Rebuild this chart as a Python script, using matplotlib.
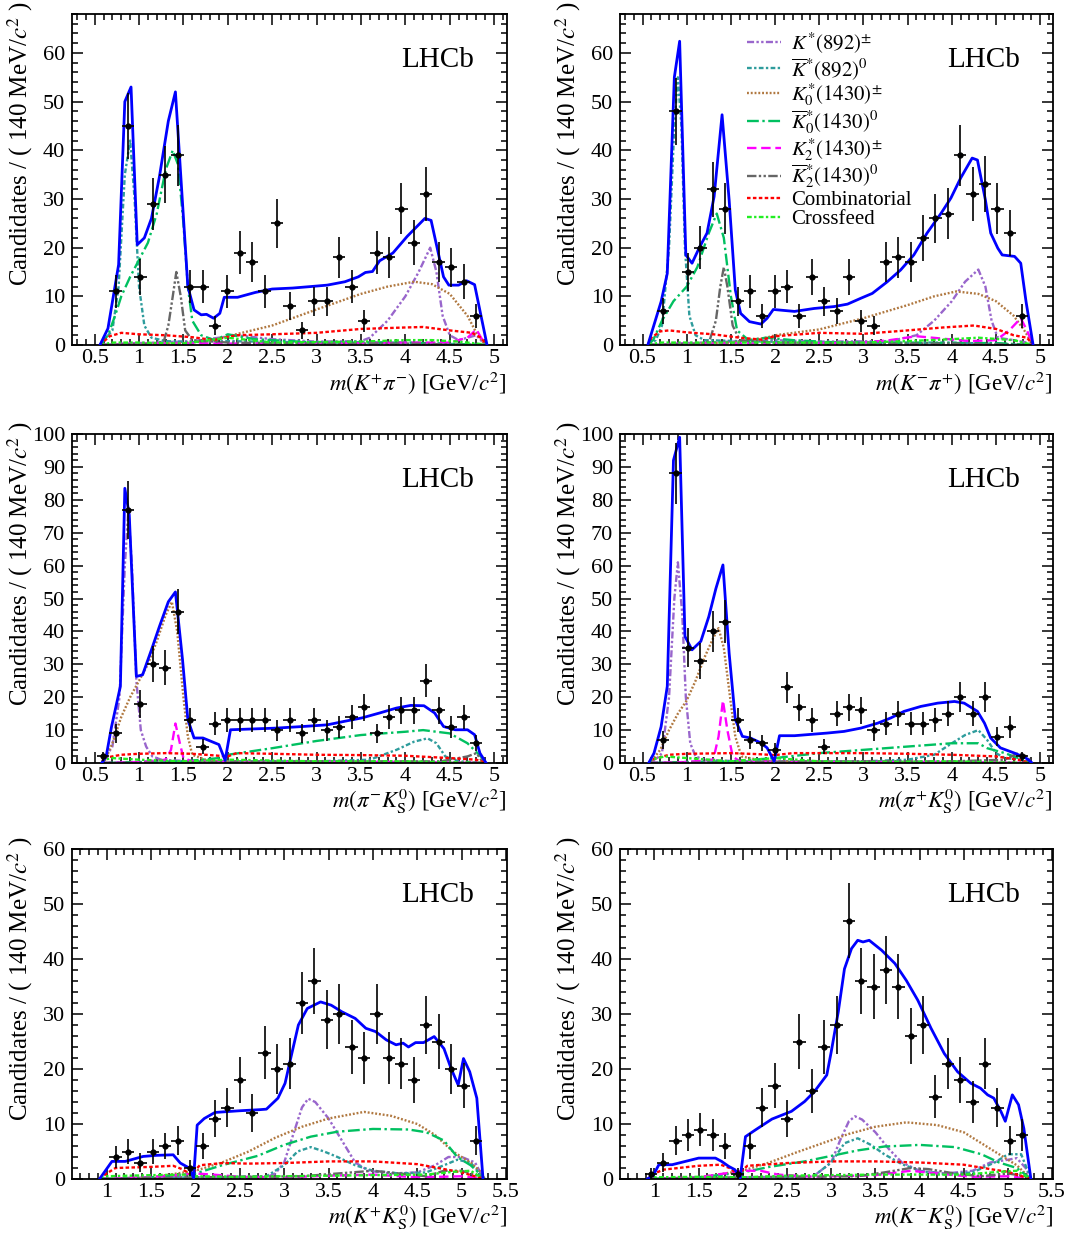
import numpy as np
import matplotlib
matplotlib.use("Agg")
from matplotlib import pyplot as plt
from matplotlib.ticker import MultipleLocator

plt.rcParams['font.family'] = ['Liberation Serif', 'DejaVu Serif']
plt.rcParams['mathtext.fontset'] = 'stix'

# bin centres (140 MeV bins)
centers_kpi = [0.595, 0.735, 0.875, 1.015, 1.155, 1.295, 1.435, 1.575, 1.715, 1.855, 1.995,
               2.135, 2.275, 2.415, 2.555, 2.695, 2.835, 2.975, 3.115, 3.255, 3.395, 3.535,
               3.675, 3.815, 3.955, 4.095, 4.235, 4.375, 4.515, 4.655, 4.795]
centers_kk = [0.96, 1.10, 1.24, 1.38, 1.52, 1.66, 1.80, 1.94, 2.08, 2.22, 2.36, 2.50, 2.64,
              2.78, 2.92, 3.06, 3.20, 3.34, 3.48, 3.62, 3.76, 3.90, 4.04, 4.18, 4.32, 4.46,
              4.60, 4.74, 4.88, 5.02, 5.16]

# ---- panel 1: K+ pi-
kpi_counts = [11, 45, 14, 29, 35, 39, 12, 12, 4, 11, 19, 17, 11, 25, 8, 3, 9, 9, 18, 12, 5,
              19, 18, 28, 21, 31, 17, 16, 13, 6]
kpi_fit_x = [0.56, 0.65, 0.77, 0.84, 0.91, 0.98, 1.06, 1.14, 1.23, 1.33, 1.41, 1.55, 1.62,
             1.70, 1.76, 1.84, 1.91, 1.96, 2.11, 2.31, 2.50, 2.73, 2.93, 3.12, 3.32, 3.47,
             3.55, 3.63, 3.71, 3.86, 4.02, 4.22, 4.29, 4.43, 4.49, 4.60, 4.69, 4.78, 4.92]
kpi_fit_y = [0, 3.4, 16.5, 50, 53, 20.6, 22, 26, 34.6, 46, 52, 12, 7.2, 6.2, 6.3, 5.5, 6.5,
             9.8, 9.8, 10.8, 11.5, 11.7, 12, 12.3, 13, 14, 14.9, 15.1, 17.3, 18.9, 22.3, 26,
             25.6, 14, 12.3, 12.3, 13.2, 12.4, 0]
kpi_parts = {
    'kst_pm': ([0.56, 0.8, 1.2, 1.6, 1.9, 2.1, 2.5, 3.0, 3.5, 3.6, 3.8, 4.0, 4.15, 4.28, 4.35, 4.42, 4.5, 4.6, 4.8, 4.9],
               [0, 0.3, 0.5, 0.8, 1.5, 2.0, 1.2, 0.7, 0.8, 1.5, 5, 10, 15, 20, 15, 6, 2, 1, 2, 0]),
    'kst_0': ([0.56, 0.7, 0.77, 0.84, 0.9, 0.95, 1.0, 1.06, 1.14, 1.3, 1.6, 2.0, 3.0, 4.0, 4.9],
              [0, 3, 12, 35, 42, 30, 12, 4, 1.5, 0.8, 0.6, 0.8, 0.5, 0.5, 0]),
    'k0_pm': ([0.56, 1.0, 1.5, 1.8, 2.0, 2.5, 3.0, 3.5, 3.8, 4.1, 4.3, 4.5, 4.7, 4.8, 4.9],
              [0, 0.2, 0.4, 0.8, 1.8, 4, 7.3, 10.5, 12, 13, 12.5, 10.5, 6, 2.5, 0]),
    'k0_0': ([0.56, 0.65, 0.73, 0.8, 0.9, 1.0, 1.1, 1.2, 1.3, 1.38, 1.44, 1.5, 1.55, 1.6, 1.7, 1.85, 2.0, 2.3, 3.0, 4.0, 4.9],
             [0, 2, 6, 10, 14, 17.5, 21, 27, 36, 40, 37, 25, 12, 5, 2, 1, 2.2, 1.2, 0.5, 0.5, 0]),
    'k2_pm': ([0.56, 1.0, 2.0, 3.0, 4.0, 4.5, 4.7, 4.8, 4.9],
              [0, 0.3, 0.3, 0.3, 0.5, 0.5, 1.5, 3.2, 0]),
    'k2_0': ([0.56, 1.2, 1.28, 1.33, 1.38, 1.42, 1.47, 1.52, 1.6, 2.0, 3.0, 4.0, 4.9],
             [0, 0.3, 0.8, 4, 10, 15, 10, 3, 1, 0.5, 0.3, 0.3, 0]),
    'comb': ([0.56, 0.62, 0.67, 0.8, 1.0, 1.3, 1.6, 1.85, 1.95, 2.1, 2.5, 3.0, 3.5, 4.0, 4.2, 4.5, 4.75, 4.85, 4.92],
             [0, 1, 1.8, 2.5, 2.2, 2.0, 1.6, 1.0, 1.5, 2.0, 2.2, 2.5, 3.3, 3.6, 3.7, 3.0, 2.5, 1.5, 0]),
    'xfeed': ([0.56, 0.7, 1.0, 1.5, 2.0, 2.5, 3.5, 4.0, 4.3, 4.6, 4.85, 4.92],
              [0, 0.5, 0.5, 0.3, 1.5, 0.5, 0.7, 1.0, 1.0, 0.7, 0.2, 0]),
}

# ---- panel 2: K- pi+
kmpi_counts = [7, 48, 15, 20, 32, 28, 9, 11, 6, 11, 12, 6, 14, 9, 7, 14, 5, 4, 17, 18, 17,
               22, 26, 27, 39, 31, 33, 28, 23, 6]
kmpi_fit_x = [0.56, 0.71, 0.78, 0.86, 0.92, 0.99, 1.06, 1.14, 1.23, 1.31, 1.40, 1.48, 1.55,
              1.61, 1.71, 1.84, 1.91, 1.98, 2.22, 2.44, 2.67, 2.82, 2.97, 3.10, 3.27, 3.42,
              3.57, 3.72, 3.88, 3.99, 4.10, 4.23, 4.29, 4.38, 4.44, 4.52, 4.57, 4.71, 4.78,
              4.84, 4.92]
kmpi_fit_y = [0, 8.9, 14.7, 55, 62.4, 18.5, 16.8, 19.9, 23, 30.5, 47.3, 29.8, 11.3, 6.5,
              4.8, 4.3, 5.5, 7.3, 6.9, 7.5, 7.9, 8.4, 9.6, 10.6, 13, 15.4, 18.5, 23, 27.1,
              30.2, 34.3, 38.4, 38, 29.8, 23, 19.9, 18.5, 18.2, 16.8, 8.9, 0]
kmpi_parts = {
    'kst_pm': ([0.56, 1.0, 2.0, 2.5, 3.3, 3.6, 3.8, 4.0, 4.15, 4.3, 4.38, 4.45, 4.52, 4.7, 4.85, 4.92],
               [0, 0.4, 1.0, 0.7, 0.8, 2, 5, 9, 13, 15.5, 12, 5, 1.5, 1, 0.5, 0]),
    'kst_0': ([0.56, 0.65, 0.72, 0.8, 0.86, 0.9, 0.94, 0.98, 1.03, 1.1, 1.2, 1.6, 2.5, 4.0, 4.92],
              [0, 1, 4, 20, 45, 55, 45, 20, 6, 2, 1, 0.8, 0.5, 0.5, 0]),
    'k0_pm': ([0.56, 1.0, 1.5, 1.9, 2.0, 2.5, 3.0, 3.5, 3.8, 4.05, 4.3, 4.5, 4.7, 4.82, 4.92],
              [0, 0.2, 0.5, 1.5, 2.0, 3.2, 5.5, 8.2, 10, 11, 10.5, 9, 6, 3, 0]),
    'k0_0': ([0.56, 0.62, 0.72, 0.85, 1.0, 1.12, 1.25, 1.34, 1.42, 1.5, 1.57, 1.7, 1.9, 2.2, 2.6, 3.5, 4.5, 4.92],
             [0, 1, 5, 9, 12, 16, 23, 27, 22, 10, 3, 1, 1.5, 1, 0.6, 0.4, 0.4, 0]),
    'k2_pm': ([0.56, 1.0, 2.0, 3.0, 3.3, 3.6, 3.9, 4.2, 4.5, 4.65, 4.78, 4.85, 4.92],
              [0, 0.3, 0.3, 0.5, 1.0, 1.8, 1.3, 0.8, 1.0, 3, 5.5, 3, 0]),
    'k2_0': ([0.56, 1.2, 1.26, 1.33, 1.38, 1.42, 1.46, 1.52, 1.6, 2.0, 3.0, 4.0, 4.92],
             [0, 0.3, 1, 5, 12, 16, 12, 4, 1, 0.5, 0.3, 0.3, 0]),
    'comb': ([0.56, 0.6, 0.7, 0.8, 1.0, 1.3, 1.6, 1.85, 2.0, 2.5, 3.0, 3.5, 3.9, 4.25, 4.5, 4.7, 4.85, 4.92],
             [0, 1.5, 2.8, 3.0, 2.6, 2.2, 1.5, 1.1, 1.8, 2.5, 2.3, 3.0, 3.6, 4.0, 3.3, 2.0, 1.5, 0]),
    'xfeed': ([0.56, 0.7, 1.0, 2.0, 3.0, 3.5, 4.0, 4.3, 4.7, 4.92],
              [0, 0.5, 0.5, 0.5, 0.5, 0.8, 1.2, 1.5, 1.0, 0]),
}

# ---- panel 3: pi- K0S
pimks_counts = [2, 9, 77, 18, 30, 29, 46, 13, 5, 12, 13, 13, 13, 13, 10, 13, 9, 13, 10, 11,
                14, 17, 9, 14, 16, 16, 25, 16, 11, 14, 6]
pimks_fit_x = [0.58, 0.63, 0.69, 0.79, 0.84, 0.89, 0.97, 1.04, 1.14, 1.23, 1.33, 1.41, 1.49,
               1.55, 1.62, 1.72, 1.90, 1.97, 2.03, 2.23, 2.54, 2.85, 3.12, 3.32, 3.51, 3.71,
               3.90, 4.06, 4.21, 4.33, 4.43, 4.56, 4.70, 4.78, 4.84, 4.91]
pimks_fit_y = [0, 2, 11, 23.3, 83.5, 75.4, 26.3, 26.8, 34.4, 41.5, 49, 52, 31.4, 13.2, 7.6,
               7.6, 5.6, 0.8, 10.1, 10.3, 10.6, 11.1, 11.6, 12.7, 13.7, 15.2, 16.7, 17.5,
               17.4, 15.2, 11.1, 10.1, 10.1, 8.6, 3, 0]
pimks_parts = {
    'kst_pm': ([0.58, 0.7, 0.78, 0.84, 0.88, 0.92, 0.97, 1.02, 1.08, 1.15, 1.25, 1.6, 2.0, 3.0, 4.0, 4.91],
               [0, 5, 20, 60, 77, 60, 25, 10, 5, 2, 1, 0.5, 0.5, 0.4, 0.4, 0]),
    'kst_0': ([0.58, 1.0, 2.0, 3.0, 3.6, 3.9, 4.1, 4.25, 4.35, 4.45, 4.6, 4.91],
              [0, 0.3, 0.5, 0.5, 1, 4, 6.5, 7.5, 6, 2, 0.5, 0]),
    'k0_pm': ([0.58, 0.62, 0.7, 0.8, 0.9, 1.0, 1.1, 1.2, 1.3, 1.37, 1.43, 1.5, 1.55, 1.6, 1.75, 1.9, 2.5, 4.0, 4.91],
              [0, 1, 6, 14, 20, 25, 30, 37, 45, 49, 40, 20, 8, 2.5, 1, 0.5, 0.3, 0.3, 0]),
    'k0_0': ([0.58, 1.0, 1.5, 1.9, 2.0, 2.5, 3.0, 3.5, 4.0, 4.2, 4.5, 4.7, 4.85, 4.91],
             [0, 0.3, 0.5, 1.5, 2.5, 4.5, 6.7, 8.5, 9.5, 10, 9, 6, 2, 0]),
    'k2_pm': ([0.58, 1.0, 1.3, 1.36, 1.41, 1.46, 1.5, 1.6, 2.0, 3.0, 4.0, 4.91],
              [0, 0.3, 1, 4, 12, 6, 1.5, 0.5, 0.3, 0.3, 0.3, 0]),
    'k2_0': ([0.58, 2.0, 3.0, 4.0, 4.4, 4.7, 4.8, 4.88],
             [0, 0.3, 0.5, 0.5, 0.5, 2, 3, 0]),
    'comb': ([0.58, 0.6, 0.8, 1.0, 1.3, 1.6, 1.9, 2.0, 2.1, 2.5, 3.0, 3.5, 4.0, 4.5, 4.8, 4.91],
             [0, 1.5, 2.5, 2.8, 3.0, 2.8, 2.2, 2.0, 3.0, 2.8, 2.5, 2.4, 2.2, 1.5, 1.0, 0]),
    'xfeed': ([0.58, 0.6, 0.7, 1.0, 1.5, 2.0, 3.0, 4.0, 4.91],
              [0, 1, 1.5, 1, 0.5, 1.0, 0.5, 0.5, 0]),
}

# ---- panel 4: pi+ K0S
pipks_counts = [7, 88, 35, 31, 40, 43, 13, 7, 6, 4, 23, 17, 13, 5, 15, 17, 16, 10, 12, 15,
                12, 12, 13, 15, 20, 15, 20, 8, 11, 2]
pipks_fit_x = [0.57, 0.63, 0.71, 0.78, 0.85, 0.92, 0.98, 1.06, 1.16, 1.25, 1.33, 1.41, 1.48,
               1.55, 1.63, 1.72, 1.84, 1.91, 1.99, 2.05, 2.22, 2.59, 2.78, 2.97, 3.16, 3.31,
               3.46, 3.65, 3.84, 4.03, 4.14, 4.29, 4.37, 4.44, 4.55, 4.71, 4.84, 4.90]
pipks_fit_y = [0, 3, 11, 23.3, 92, 99, 38.5, 34.4, 37, 44.5, 53, 60.2, 33.4, 13.2, 8.1, 7.6,
               6.1, 4.6, 0.5, 8.3, 8.3, 9.1, 9.6, 10.6, 12.1, 13.7, 15.7, 17.2, 18.2, 18.7,
               18.2, 15.7, 12.1, 7.6, 4.6, 3, 1.5, 0.2]
pipks_parts = {
    'kst_pm': ([0.57, 0.62, 0.72, 0.8, 0.86, 0.9, 0.95, 0.99, 1.04, 1.1, 1.2, 1.6, 2.5, 4.0, 4.9],
               [0, 0.3, 3, 20, 50, 61, 45, 20, 6, 2, 1, 0.5, 0.4, 0.4, 0]),
    'kst_0': ([0.57, 1.0, 2.0, 3.0, 3.5, 3.8, 4.0, 4.15, 4.3, 4.4, 4.5, 4.6, 4.8, 4.9],
              [0, 0.3, 0.5, 0.5, 1, 2.5, 6, 8.5, 10, 7, 3, 1.5, 1, 0]),
    'k0_pm': ([0.57, 0.6, 0.7, 0.8, 0.9, 1.0, 1.1, 1.2, 1.3, 1.36, 1.42, 1.5, 1.55, 1.62, 1.8, 2.0, 3.0, 4.9],
              [0, 0.5, 4, 10, 15, 19, 25, 32, 38, 41, 35, 18, 8, 2, 1, 0.5, 0.3, 0]),
    'k0_0': ([0.57, 1.0, 1.5, 2.0, 2.5, 3.0, 3.5, 4.0, 4.3, 4.4, 4.6, 4.8, 4.9],
             [0, 0.3, 0.5, 1.5, 3, 4, 5, 6, 6, 4.5, 3, 1, 0]),
    'k2_pm': ([0.57, 1.0, 1.3, 1.36, 1.41, 1.46, 1.52, 1.6, 2.0, 3.0, 4.0, 4.9],
              [0, 0.3, 1, 8, 19, 10, 2, 0.5, 0.3, 0.3, 0.3, 0]),
    'k2_0': ([0.57, 2.0, 3.0, 4.0, 4.6, 4.75, 4.85, 4.9],
             [0, 0.3, 0.5, 0.5, 1, 3, 2, 0]),
    'comb': ([0.57, 0.6, 0.8, 1.0, 1.5, 1.8, 2.0, 2.2, 3.0, 3.5, 4.0, 4.5, 4.75, 4.9],
             [0, 1, 2.5, 2.8, 3.0, 2.7, 2.4, 3.0, 3.0, 2.8, 2.5, 2.0, 1.0, 0]),
    'xfeed': ([0.57, 0.6, 0.75, 1.0, 1.5, 2.0, 2.5, 3.0, 4.0, 4.9],
              [0, 1, 2, 1.5, 0.5, 1.5, 0.5, 0.3, 0.5, 0]),
}

# ---- panel 5: K+ K0S
kpks_counts = [4, 5, 3, 5, 6, 7, 2, 6, 11, 13, 18, 12, 23, 20, 21, 32, 36, 29, 30, 24, 22,
               30, 22, 21, 18, 28, 25, 20, 17, 7]
kpks_fit_x = [0.92, 1.06, 1.21, 1.41, 1.56, 1.75, 1.83, 1.93, 1.98, 2.02, 2.10, 2.22, 2.49,
              2.72, 2.80, 2.93, 3.01, 3.09, 3.16, 3.26, 3.41, 3.53, 3.65, 3.80, 3.92, 4.03,
              4.15, 4.26, 4.34, 4.40, 4.48, 4.57, 4.69, 4.80, 4.88, 4.96, 5.02, 5.09, 5.17, 5.24]
kpks_fit_y = [0, 3.2, 3.2, 4.1, 4.3, 4.4, 2.9, 2, 0.2, 9.8, 11, 12.1, 12.4, 12.6, 12.7, 14.7,
              17.4, 23.1, 28, 31, 32.2, 31.6, 30.4, 29.2, 27.4, 26.8, 25.3, 24.4, 24.7, 24,
              24.8, 24.8, 25.9, 23.7, 20.1, 17.1, 21.9, 19.5, 14.7, 0]
kpks_parts = {
    'kst_pm': ([0.92, 1.5, 2.0, 2.8, 2.9, 3.0, 3.1, 3.2, 3.27, 3.35, 3.5, 3.65, 3.8, 3.95, 4.2, 4.5, 4.7, 4.85, 5.0, 5.15, 5.25],
               [0, 0.3, 0.3, 0.3, 1, 3, 8, 13, 14.6, 14, 11, 7, 3, 1.5, 1, 1.2, 2.5, 4, 4, 3, 0]),
    'kst_0': ([0.92, 2.0, 2.8, 3.0, 3.15, 3.3, 3.45, 3.6, 3.8, 4.0, 4.3, 4.6, 4.8, 4.95, 5.1, 5.2, 5.26],
              [0, 0.3, 0.5, 2.5, 5, 5.8, 5, 4, 2.5, 1.5, 1, 1.2, 2.5, 3.5, 3, 1, 0]),
    'k0_pm': ([0.92, 1.5, 2.0, 2.3, 2.6, 2.9, 3.2, 3.5, 3.9, 4.2, 4.5, 4.7, 4.9, 5.1, 5.2, 5.26],
              [0, 0.3, 1.5, 3, 5, 7.5, 9.5, 11, 12.2, 11.5, 10, 8, 5, 3, 1.5, 0]),
    'k0_0': ([0.92, 1.5, 2.0, 2.3, 2.7, 3.0, 3.3, 3.6, 4.0, 4.4, 4.6, 4.8, 4.95, 5.1, 5.2, 5.26],
             [0, 0.3, 1, 2.5, 4.2, 6.2, 7.7, 8.6, 9.1, 9, 8.5, 7, 4, 2.5, 1, 0]),
    'k2_pm': ([0.92, 1.5, 2.0, 2.2, 2.5, 3.0, 3.5, 4.0, 4.5, 5.0, 5.26],
              [0, 0.3, 1, 0.8, 0.4, 0.3, 0.6, 0.8, 0.3, 0.5, 0]),
    'k2_0': ([0.92, 2.0, 3.2, 3.6, 4.0, 4.3, 4.6, 4.8, 5.0, 5.2, 5.26],
             [0, 0.3, 0.5, 1, 1.5, 1, 0.5, 1.5, 1.5, 0.5, 0]),
    'comb': ([0.92, 1.0, 1.1, 1.5, 1.75, 1.85, 1.95, 2.05, 2.3, 2.6, 3.0, 3.5, 4.0, 4.5, 4.8, 5.0, 5.25],
             [0, 1, 2, 2.2, 2.4, 1.8, 0.8, 2.5, 2.9, 2.8, 2.9, 3.2, 3.2, 2.7, 1.8, 1.2, 0]),
    'xfeed': ([0.92, 1.0, 1.5, 1.9, 2.0, 2.5, 3.0, 3.5, 4.0, 4.6, 4.9, 5.1, 5.25],
              [0, 0.5, 0.7, 0.8, 0.5, 0.4, 0.5, 0.6, 0.7, 0.8, 1.3, 1.5, 0]),
}

# ---- panel 6: K- K0S
kmks_counts = [1, 3, 7, 8, 9, 8, 6, 1, 6, 13, 17, 11, 25, 16, 24, 28, 47, 36, 35, 38, 35,
               26, 28, 15, 21, 18, 14, 21, 13, 7, 8]
kmks_fit_x = [0.92, 0.99, 1.05, 1.20, 1.35, 1.50, 1.69, 1.76, 1.84, 1.91, 1.97, 2.03, 2.14,
              2.33, 2.55, 2.70, 2.81, 2.95, 3.00, 3.08, 3.15, 3.23, 3.30, 3.36, 3.43, 3.57,
              3.72, 3.85, 3.98, 4.13, 4.28, 4.43, 4.58, 4.69, 4.77, 4.84, 4.92, 4.97, 5.05,
              5.12, 5.18, 5.26]
kmks_fit_y = [0, 0.8, 2.6, 2.6, 3.2, 3.8, 3.8, 3.2, 2.3, 1.7, 0.2, 7.7, 8.9, 10.9, 12.3,
              14.1, 15.9, 18.9, 23.1, 30.4, 38.2, 41.9, 43.4, 43.1, 43.4, 41.6, 39.2, 36.1,
              32.5, 27.4, 22.8, 19.5, 17.4, 16.5, 15.3, 14.7, 12.3, 10.5, 15.3, 13.5, 9.2, 0]
kmks_parts = {
    'kst_pm': ([0.92, 2.0, 2.8, 3.0, 3.1, 3.2, 3.27, 3.35, 3.5, 3.65, 3.8, 4.0, 4.3, 4.6, 4.8, 5.0, 5.1, 5.2, 5.26],
               [0, 0.3, 0.5, 3, 7, 10.5, 11.4, 10.8, 8.5, 5.5, 3, 1.5, 1, 1.5, 3, 3.5, 3.8, 2, 0]),
    'kst_0': ([0.92, 2.0, 2.8, 3.0, 3.15, 3.3, 3.45, 3.6, 3.8, 4.0, 4.3, 4.6, 4.85, 5.0, 5.15, 5.26],
              [0, 0.3, 0.5, 3, 6.5, 7.4, 6.2, 4.5, 2.7, 1.5, 0.8, 1.2, 3, 4.5, 4.5, 0]),
    'k0_pm': ([0.92, 1.5, 2.0, 2.3, 2.6, 2.9, 3.2, 3.5, 3.85, 4.2, 4.5, 4.7, 4.9, 5.1, 5.26],
              [0, 0.3, 1.5, 3, 4.8, 6.5, 8.2, 9.5, 10.3, 9.8, 8.5, 6.5, 4.5, 2.5, 0]),
    'k0_0': ([0.92, 1.5, 2.0, 2.3, 2.7, 3.0, 3.3, 3.6, 4.0, 4.4, 4.7, 4.9, 5.1, 5.26],
             [0, 0.3, 1.2, 2.2, 3.2, 4.2, 5.2, 5.9, 6.2, 5.8, 4.5, 3, 2, 0]),
    'k2_pm': ([0.92, 1.5, 2.0, 2.2, 2.4, 2.8, 3.5, 3.9, 4.2, 4.6, 5.0, 5.26],
              [0, 0.3, 1.5, 1.5, 0.8, 0.4, 0.7, 1.5, 1, 0.4, 0.5, 0]),
    'k2_0': ([0.92, 2.0, 3.3, 3.6, 3.9, 4.1, 4.4, 4.7, 5.0, 5.2, 5.26],
             [0, 0.3, 0.5, 1.2, 2.0, 1.8, 1, 0.5, 1, 0.5, 0]),
    'comb': ([0.92, 1.0, 1.1, 1.5, 1.75, 1.85, 1.95, 2.05, 2.5, 3.0, 3.5, 4.0, 4.5, 4.8, 5.0, 5.26],
             [0, 1, 1.7, 2.4, 2.6, 2.0, 0.8, 2.4, 2.9, 3.2, 3.2, 3.0, 2.6, 1.8, 1.3, 0]),
    'xfeed': ([0.92, 1.0, 1.5, 2.0, 2.5, 3.0, 3.5, 4.0, 4.5, 4.9, 5.1, 5.26],
              [0, 0.3, 0.4, 0.3, 0.6, 0.7, 0.8, 0.8, 0.8, 1.3, 1.5, 0]),
}

# component styles, in legend order
part_order = ['kst_pm', 'kst_0', 'k0_pm', 'k0_0', 'k2_pm', 'k2_0', 'comb', 'xfeed']
part_labels = {
    'kst_pm': r'$K^{*}(892)^{\pm}$',
    'kst_0': r'$\overline{K}^{*}(892)^{0}$',
    'k0_pm': r'$K_{0}^{*}(1430)^{\pm}$',
    'k0_0': r'$\overline{K}_{0}^{*}(1430)^{0}$',
    'k2_pm': r'$K_{2}^{*}(1430)^{\pm}$',
    'k2_0': r'$\overline{K}_{2}^{*}(1430)^{0}$',
    'comb': 'Combinatorial',
    'xfeed': 'Crossfeed',
}
part_style = {
    'kst_pm': dict(color='#9966CC', ls=(0, (3, 1, 1, 1, 1, 1))),
    'kst_0': dict(color='#2E9C9C', ls=(0, (2, 1, 1, 1))),
    'k0_pm': dict(color='#B07840', ls=(0, (0.8, 0.8))),
    'k0_0': dict(color='#00C060', ls=(0, (5, 1.5, 1, 1.5))),
    'k2_pm': dict(color='#FF00FF', ls=(0, (4, 2))),
    'k2_0': dict(color='#666666', ls=(0, (4, 1, 1, 1, 1, 1))),
    'comb': dict(color='#FF0000', ls=(0, (1.5, 1))),
    'xfeed': dict(color='#22EE22', ls=(0, (2, 1, 1, 1))),
}

fig = plt.figure(figsize=(10.71, 12.34), dpi=100)
W, H = 1071.0, 1234.0


def make_ax(left, top, right, bottom):
    return fig.add_axes([left / W, 1 - bottom / H, (right - left) / W, (bottom - top) / H])


def draw_panel(ax, centers, counts, fit_x, fit_y, parts, xlim, ylim, xlabel, legend=False):
    for key in part_order:
        px, py = parts[key]
        ax.plot(px, py, lw=1.7, label=part_labels[key], zorder=2, **part_style[key])
    ax.plot(fit_x, fit_y, color='#0000FF', lw=2.0, zorder=3)
    counts = np.array(counts, dtype=float)
    ax.errorbar(centers, counts, yerr=np.sqrt(counts), xerr=0.07, fmt='o', color='black',
                ms=3.5, elinewidth=1.2, capsize=0, zorder=4)
    ax.set_xlim(*xlim)
    ax.set_ylim(*ylim)
    ax.xaxis.set_major_locator(MultipleLocator(0.5))
    ax.xaxis.set_minor_locator(MultipleLocator(0.1))
    ax.yaxis.set_major_locator(MultipleLocator(10))
    ax.yaxis.set_minor_locator(MultipleLocator(2))
    ax.xaxis.set_major_formatter(plt.FuncFormatter(lambda v, p: ('%g' % v)))
    ax.tick_params(which='both', direction='in', top=True, right=True, labelsize=16, width=1.1)
    ax.tick_params(which='major', length=8)
    ax.tick_params(which='minor', length=4)
    ax.tick_params(axis='y', pad=5)
    ax.tick_params(axis='x', pad=3)
    for s in ax.spines.values():
        s.set_linewidth(1.3)
    ax.set_ylabel(r'Candidates / ( 140 MeV/$c^{2}$ )', fontsize=18, loc='top')
    ax.yaxis.set_label_coords(-0.085, 1.04)
    ax.set_xlabel(xlabel, fontsize=16.5, loc='right')
    ax.xaxis.set_label_coords(1.0, -0.072)
    ax.text(0.925, 0.84, 'LHCb', transform=ax.transAxes, ha='right', va='baseline', fontsize=21)
    if legend:
        ax.legend(loc='upper left', bbox_to_anchor=(0.275, 0.975), frameon=False, fontsize=15,
                  handlelength=1.6, handletextpad=0.5, labelspacing=0.0, borderaxespad=0)


top_lim = (0.245, 5.145)
kk_lim = (0.61, 5.51)

ax1 = make_ax(72, 14, 507, 345)
draw_panel(ax1, centers_kpi[1:], kpi_counts, kpi_fit_x, kpi_fit_y, kpi_parts, top_lim, (0, 68),
           r'$m(K^{+}\pi^{-})$ [GeV/$c^{2}$]')
ax2 = make_ax(620, 14, 1053, 345)
draw_panel(ax2, centers_kpi[1:], kmpi_counts, kmpi_fit_x, kmpi_fit_y, kmpi_parts, top_lim, (0, 68),
           r'$m(K^{-}\pi^{+})$ [GeV/$c^{2}$]', legend=True)
ax3 = make_ax(72, 434, 507, 763)
draw_panel(ax3, centers_kpi, pimks_counts, pimks_fit_x, pimks_fit_y, pimks_parts, top_lim, (0, 100),
           r'$m(\pi^{-}K^{0}_{\rm S})$ [GeV/$c^{2}$]')
ax4 = make_ax(620, 434, 1053, 763)
draw_panel(ax4, centers_kpi[1:], pipks_counts, pipks_fit_x, pipks_fit_y, pipks_parts, top_lim, (0, 100),
           r'$m(\pi^{+}K^{0}_{\rm S})$ [GeV/$c^{2}$]')
ax5 = make_ax(72, 849, 507, 1179)
draw_panel(ax5, centers_kk[1:], kpks_counts, kpks_fit_x, kpks_fit_y, kpks_parts, kk_lim, (0, 60),
           r'$m(K^{+}K^{0}_{\rm S})$ [GeV/$c^{2}$]')
ax6 = make_ax(620, 849, 1053, 1179)
draw_panel(ax6, centers_kk, kmks_counts, kmks_fit_x, kmks_fit_y, kmks_parts, kk_lim, (0, 60),
           r'$m(K^{-}K^{0}_{\rm S})$ [GeV/$c^{2}$]')

fig.savefig('out.png', dpi=100)
